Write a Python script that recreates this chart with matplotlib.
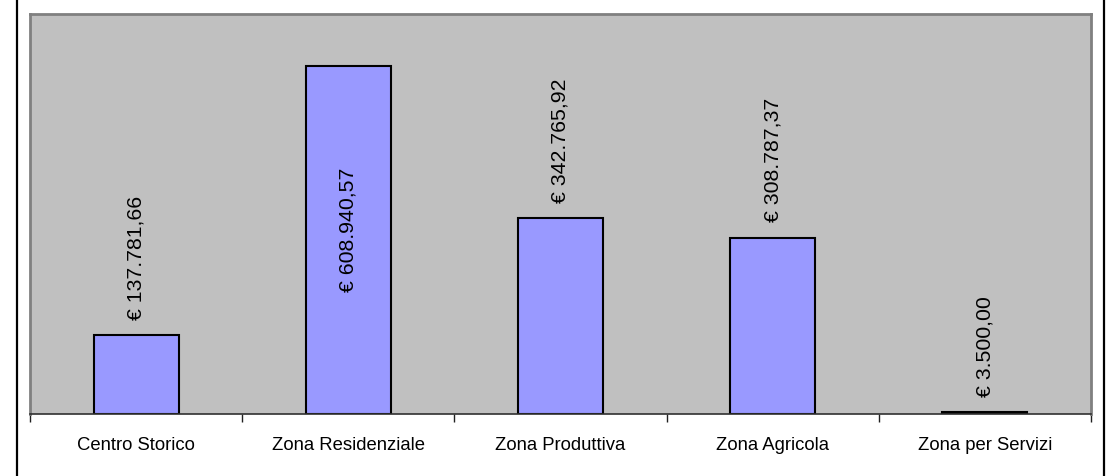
import matplotlib
matplotlib.use("Agg")
import matplotlib.pyplot as plt
from matplotlib.lines import Line2D

categories = ["Centro Storico", "Zona Residenziale", "Zona Produttiva", "Zona Agricola", "Zona per Servizi"]
values = [137781.66, 608940.57, 342765.92, 308787.37, 3500.00]
y_max = 700000

plt.rcParams['font.family'] = ['Liberation Sans', 'DejaVu Sans']


def fmt_eur(v):
    s = f"{v:,.2f}"
    s = s.replace(",", "X").replace(".", ",").replace("X", ".")
    return "\u20ac " + s


fig = plt.figure(figsize=(11.11, 4.76), dpi=100)
fig.patch.set_facecolor("white")
ax = fig.add_axes([30 / 1111, 62 / 476, 1061 / 1111, 400 / 476])
ax.set_facecolor("#C0C0C0")

x = list(range(len(categories)))
ax.bar(x, values, width=0.4, color="#9999FF", edgecolor="black", linewidth=1.5, zorder=2)

ax.set_xlim(-0.5, len(categories) - 0.5)
ax.set_ylim(0, y_max)

LABEL_FS = 15.3
for xi, v in zip(x, values):
    label = fmt_eur(v)
    if v > y_max * 0.7:
        ax.text(xi, v * 0.53, label, rotation=90, ha="center", va="center", fontsize=LABEL_FS, color="black", zorder=3)
    else:
        ax.annotate(label, (xi, v), xytext=(0, 11), textcoords="offset points",
                    rotation=90, ha="center", va="bottom", fontsize=LABEL_FS, color="black", zorder=3)

ax.set_yticks([])
ax.set_xticks([i - 0.5 for i in range(len(categories) + 1)])
ax.set_xticklabels([])
ax.set_xticks(x, minor=True)
ax.set_xticklabels(categories, minor=True, fontsize=13.3)
ax.tick_params(axis="x", which="major", direction="out", length=6, width=1, color="#202020")
ax.tick_params(axis="x", which="minor", length=0, pad=16.5)

for side in ["left", "top", "right"]:
    ax.spines[side].set_color("#808080")
    ax.spines[side].set_linewidth(2)
ax.spines["bottom"].set_color("#303030")
ax.spines["bottom"].set_linewidth(1.2)

fig.add_artist(Line2D([16.5 / 1111, 16.5 / 1111], [0, 1], color="black", linewidth=1.6))
fig.add_artist(Line2D([1103.5 / 1111, 1103.5 / 1111], [0, 1], color="black", linewidth=1.6))

fig.savefig("out.png", dpi=100, facecolor="white")
